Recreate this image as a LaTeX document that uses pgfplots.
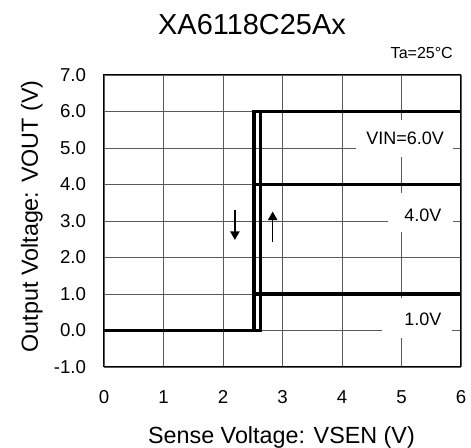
\documentclass[border=0pt]{standalone}
\usepackage{pgfplots}
\pgfplotsset{compat=1.18}
\usepackage{fontspec}
\setmainfont{Liberation Sans}
\usetikzlibrary{arrows.meta}
\begin{document}
\begin{tikzpicture}
\path[use as bounding box] (-78pt,-60.75pt) rectangle (275.25pt,275.25pt);
\begin{axis}[
 at={(0pt,0pt)}, anchor=south west,
 scale only axis, width=267.75pt, height=219pt,
 xmin=0, xmax=6, ymin=-1, ymax=7,
 xtick={0,1,2,3,4,5,6}, ytick={-1,0,1,2,3,4,5,6,7},
 xticklabels={0,1,2,3,4,5,6},
 yticklabels={-1.0,0.0,1.0,2.0,3.0,4.0,5.0,6.0,7.0},
 major tick length=0pt,
 grid=major,
 major grid style={black!65, line width=0.7pt},
 axis line style={black, line width=0.75pt},
 tick label style={font=\fontsize{14}{16}\selectfont},
 xticklabel style={anchor=base, yshift=-27.5pt},
 yticklabel style={anchor=east, xshift=-10pt},
 clip=false,
]
\fill[white] (axis cs:4.24,4.75) rectangle (axis cs:5.87,5.77);
\node[font=\fontsize{13.5}{15}\selectfont] at (axis cs:5.06,5.27) {VIN=6.0V};
\fill[white] (axis cs:4.78,2.70) rectangle (axis cs:5.87,3.77);
\node[font=\fontsize{13.5}{15}\selectfont] at (axis cs:5.36,3.16) {4.0V};
\fill[white] (axis cs:4.67,-0.2) rectangle (axis cs:5.85,0.89);
\node[font=\fontsize{13.5}{15}\selectfont] at (axis cs:5.36,0.32) {1.0V};

\addplot[black, line width=2.8pt, line join=miter] coordinates {(0,0) (2.63,0) (2.63,6) (6,6)};
\addplot[black, line width=2.8pt, line join=miter] coordinates {(2.52,0) (2.52,6) (2.63,6)};
\addplot[black, line width=2.8pt] coordinates {(2.52,4) (6,4)};
\addplot[black, line width=2.8pt] coordinates {(2.52,1) (6,1)};

\addplot[black, line width=1.2pt, -{Triangle[width=7pt,length=6.5pt]}] coordinates {(2.2,3.30) (2.2,2.48)};
\addplot[black, line width=1.2pt, -{Triangle[width=7pt,length=6.5pt]}] coordinates {(2.835,2.43) (2.835,3.26)};
\end{axis}
\node[font=\fontsize{21.7}{24}\selectfont, anchor=base] at (111pt,249pt) {XA6118C25Ax};
\node[font=\fontsize{12}{14}\selectfont, anchor=base east, inner sep=0pt] at (261.75pt,231.5pt) {Ta=25\textdegree{}C};
\node[font=\fontsize{17.5}{20}\selectfont, anchor=base] at (133.1pt,-57.2pt) {Sense Voltage: VSEN (V)};
\node[font=\fontsize{17.5}{20}\selectfont, rotate=90, anchor=base] at (-49.5pt,112.9pt) {Output Voltage: VOUT (V)};
\end{tikzpicture}
\end{document}
